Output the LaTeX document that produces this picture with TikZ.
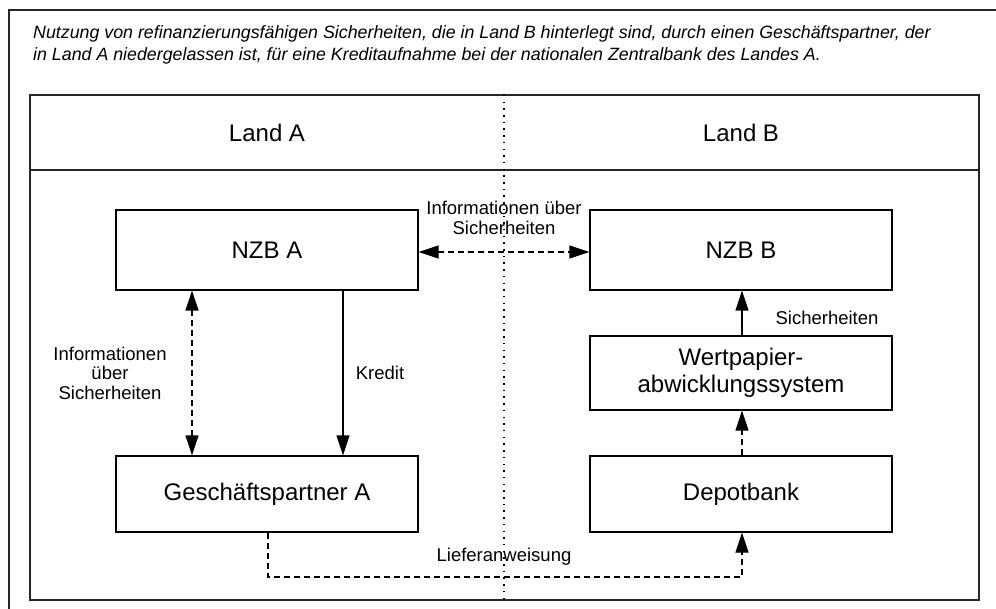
\documentclass[tikz,border=0pt]{standalone}
\usepackage{fontspec}
\setmainfont{Liberation Sans}
\usetikzlibrary{arrows.meta}
\begin{document}
\begin{tikzpicture}[x=1pt,y=-1pt,
  frame/.style={line width=1.4pt,draw=black!85},
  boxx/.style={draw,line width=1.2pt,minimum width=302pt,minimum height=80pt,inner sep=0pt,font=\fontsize{24}{26.5}\selectfont,align=center},
  lbl/.style={font=\fontsize{18.5}{19.5}\selectfont,align=center,inner sep=1pt},
  hdr/.style={font=\fontsize{24}{26}\selectfont},
  tip/.tip={Triangle[length=20pt,width=13pt]},
  arr/.style={line width=1.2pt,-tip},
  darr/.style={arr,dash pattern=on 6pt off 4pt},
  biarr/.style={line width=1.2pt,tip-tip,dash pattern=on 6pt off 4pt}]
\useasboundingbox (0,0) rectangle (996,609);
\clip (0,0) rectangle (996,609);
% outer frame
\draw[frame] (9,620) -- (9,10) -- (1010,10);
% title
\node[anchor=north west,align=left,inner sep=0pt,font=\fontsize{17.8}{22}\selectfont\itshape] (title) at (33,25)
  {Nutzung von refinanzierungsfähigen Sicherheiten, die in Land B hinterlegt sind, durch einen Geschäftspartner, der\\
   in Land A niedergelassen ist, für eine Kreditaufnahme bei der nationalen Zentralbank des Landes A.};
% inner frame
\draw[frame] (30,95) rectangle (979,600);
\draw[frame] (30,170) -- (979,170);
\coordinate (dtop) at (504,95);
\coordinate (dbot) at (504,600);
\draw[line width=1.2pt,dash pattern=on 1.5pt off 5.2pt] (dtop) -- (dbot);
\node[hdr] (landA) at (267,133) {Land A};
\node[hdr] (landB) at (741,133) {Land B};
% boxes
\node[boxx] (nzba) at (267,250) {NZB A};
\node[boxx] (nzbb) at (741,250) {NZB B};
\node[boxx,minimum height=74pt] (wps) at (741,373) {Wertpapier-\\abwicklungssystem};
\node[boxx,minimum height=76pt] (gpa) at (267,494) {Geschäftspartner A};
\node[boxx,minimum height=76pt] (dep) at (741,494) {Depotbank};
% arrows
\draw[biarr] (nzba.east |- 0,252) -- (nzbb.west |- 0,252);
\node[lbl] (l1) at (504,218) {Informationen über\\Sicherheiten};
\draw[biarr] (nzba.south -| 192,0) -- (gpa.north -| 192,0);
\node[lbl] (l2) at (110,373) {Informationen\\über\\Sicherheiten};
\draw[arr] (nzba.south -| 343,0) -- (gpa.north -| 343,0);
\node[lbl] (l3) at (380,373) {Kredit};
\draw[arr] (wps.north -| 742,0) -- (nzbb.south -| 742,0);
\node[lbl] (l4) at (827,318) {Sicherheiten};
\draw[darr] (dep.north -| 742,0) -- (wps.south -| 742,0);
\coordinate (c1) at (268,577);
\coordinate (c2) at (742,577);
\draw[darr] (gpa.south -| c1) -- (c1) -- (c2) -- (dep.south -| c2);
\node[lbl] (l5) at (504,557) {Lieferanweisung};
\end{tikzpicture}
\end{document}
